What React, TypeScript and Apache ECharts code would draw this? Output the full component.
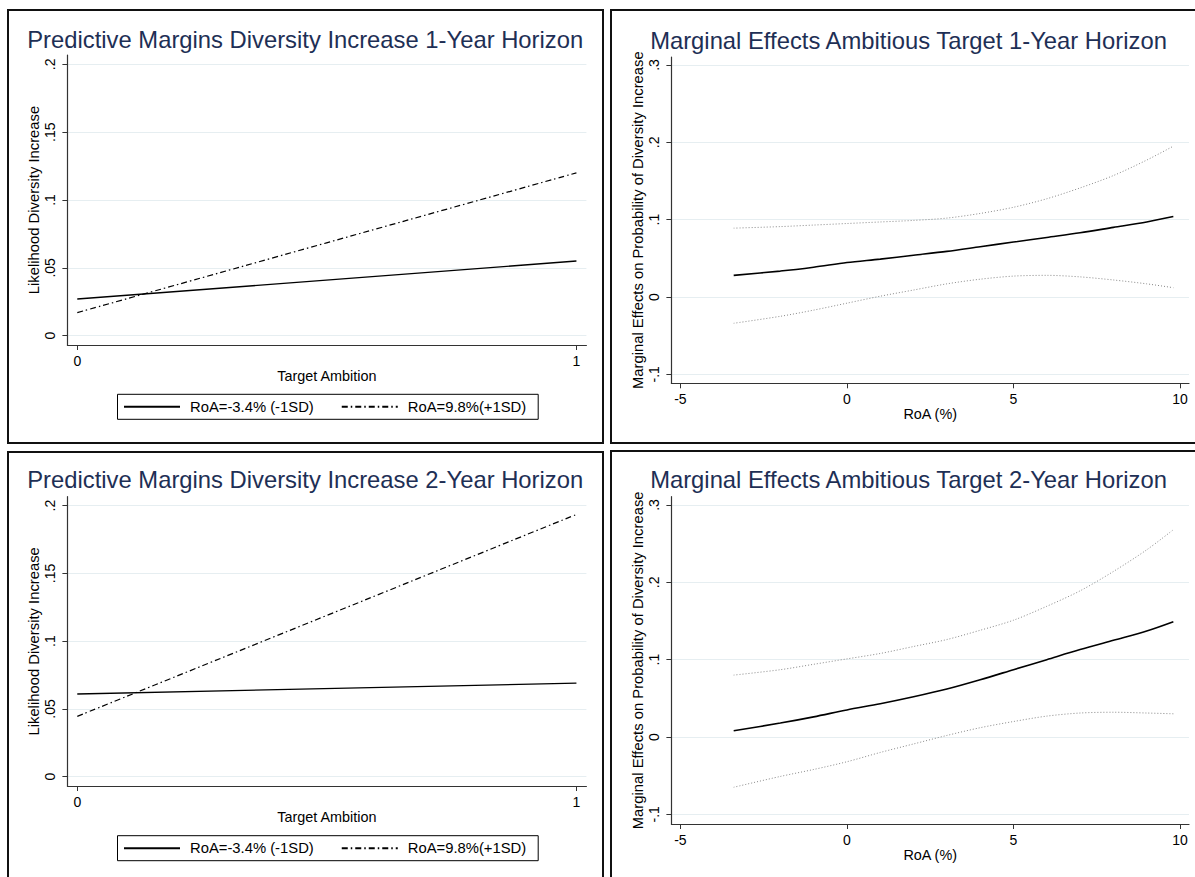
import React, { useEffect, useRef } from "react";
import * as echarts from "echarts";

// ---------- data ----------
const ambition = [0, 1];
const legendLow = "RoA=-3.4% (-1SD)";
const legendHigh = "RoA=9.8%(+1SD)";
// Predictive margins, 1-year horizon
const pm1Low = [0.027, 0.055];
const pm1High = [0.017, 0.12];
// Predictive margins, 2-year horizon
const pm2Low = [0.061, 0.069];
const pm2High = [0.0445, 0.1935];

const roa = [-3.4, -2, -1, 0, 1, 2, 3, 4, 5, 6, 7, 8, 9, 9.8];
// Marginal effects, 1-year horizon
const me1 = [0.028, 0.0335, 0.0385, 0.0445, 0.049, 0.054, 0.059, 0.065, 0.071, 0.077, 0.083, 0.09, 0.097, 0.104];
const me1Up = [0.089, 0.091, 0.093, 0.095, 0.097, 0.099, 0.102, 0.108, 0.116, 0.127, 0.141, 0.157, 0.177, 0.195];
const me1Lo = [-0.034, -0.025, -0.017, -0.008, 0.001, 0.009, 0.017, 0.023, 0.027, 0.028, 0.026, 0.022, 0.017, 0.012];
// Marginal effects, 2-year horizon
const me2 = [0.008, 0.018, 0.026, 0.035, 0.043, 0.052, 0.062, 0.074, 0.087, 0.1, 0.113, 0.125, 0.137, 0.149];
const me2Up = [0.08, 0.087, 0.094, 0.101, 0.108, 0.117, 0.126, 0.138, 0.151, 0.169, 0.189, 0.214, 0.242, 0.268];
const me2Lo = [-0.065, -0.051, -0.042, -0.032, -0.02, -0.009, 0.002, 0.012, 0.02, 0.027, 0.031, 0.032, 0.031, 0.03];

const pmYTicks = [0, 0.05, 0.1, 0.15, 0.2];
const pmXTicks = [0, 1];
const meYTicks = [-0.1, 0, 0.1, 0.2, 0.3];
const meXTicks = [-5, 0, 5, 10];

const titles = [
  "Predictive Margins Diversity Increase 1-Year Horizon",
  "Marginal Effects Ambitious Target 1-Year Horizon",
  "Predictive Margins Diversity Increase 2-Year Horizon",
  "Marginal Effects Ambitious Target 2-Year Horizon",
];

// ---------- styles ----------
const FONT = '"Liberation Sans", Arial, Helvetica, sans-serif';
const TITLE_COLOR = "#1e2f55";
const AXIS_COLOR = "#333";
const GRID_COLOR = "#e6eef1";
const DASH_DOT = [6, 3, 1.5, 3];
const DOT = [1, 2];

const stataFmt = (v: number) => {
  if (Math.abs(v) < 1e-9) return "0";
  const s = String(+v.toFixed(4));
  return s.replace(/^(-?)0\./, "$1.");
};

const pairs = (xs: number[], ys: number[]) => xs.map((x, i) => [x, ys[i]]);

function xAxisCfg(grid: number, min: number, max: number, ticks: number[], name: string) {
  return {
    type: "value",
    gridIndex: grid,
    min,
    max,
    name,
    nameLocation: "middle",
    nameGap: 24,
    nameTextStyle: { fontFamily: FONT, fontSize: 14.4, color: "#000" },
    axisLine: { show: true, onZero: false, lineStyle: { color: AXIS_COLOR, width: 1.2 } },
    axisTick: { show: true, length: 5, customValues: ticks, lineStyle: { color: AXIS_COLOR, width: 1 } },
    axisLabel: {
      show: true,
      customValues: ticks,
      margin: 9,
      fontFamily: FONT,
      fontSize: 14,
      color: "#000",
      formatter: (v: number) => stataFmt(v),
    },
    splitLine: { show: false },
  };
}

function yAxisCfg(grid: number, min: number, max: number, ticks: number[], name: string) {
  return {
    type: "value",
    gridIndex: grid,
    min,
    max,
    name,
    nameLocation: "middle",
    nameGap: 26,
    nameTextStyle: { fontFamily: FONT, fontSize: 14.8, color: "#000" },
    axisLine: { show: true, onZero: false, lineStyle: { color: AXIS_COLOR, width: 1.2 } },
    axisTick: { show: true, length: 5, customValues: ticks, lineStyle: { color: AXIS_COLOR, width: 1 } },
    axisLabel: {
      show: true,
      customValues: ticks,
      rotate: 90,
      margin: 10,
      fontFamily: FONT,
      fontSize: 14,
      color: "#000",
      formatter: (v: number) => stataFmt(v),
    },
    splitLine: { show: true, lineStyle: { color: GRID_COLOR, width: 1 } },
  };
}

function lineSeries(name: string, grid: number, data: number[][], color: string, width: number, type: any) {
  return {
    type: "line",
    name,
    xAxisIndex: grid,
    yAxisIndex: grid,
    data,
    symbol: "none",
    showSymbol: false,
    smooth: 0.3,
    silent: true,
    lineStyle: { color, width, type },
    itemStyle: { color },
    z: 3,
  };
}

function legendCfg(top: number) {
  return {
    left: 117.5,
    top,
    orient: "horizontal",
    data: [legendLow, legendHigh],
    itemWidth: 56,
    itemHeight: 14,
    itemGap: 27,
    borderColor: "#000",
    borderWidth: 1,
    padding: [5, 12, 5, 5.5],
    selectedMode: false,
    itemStyle: { opacity: 0, borderWidth: 0 },
    textStyle: { fontFamily: FONT, fontSize: 14.8, color: "#000", padding: [0, 0, 0, 5] },
  };
}

export default function App() {
  const ref = useRef<HTMLDivElement>(null);

  useEffect(() => {
    if (!ref.current) return;
    const chart = echarts.init(ref.current, undefined, { renderer: "svg" });

    const grids = [
      { left: 67.4, top: 55, width: 519, height: 290 },
      { left: 671.4, top: 57, width: 517.6, height: 326.3 },
      { left: 67.4, top: 496.7, width: 519, height: 289.3 },
      { left: 671.4, top: 496.7, width: 517.6, height: 327.3 },
    ];

    const titleStyle = (text: string) => ({
      text,
      fontFamily: FONT,
      fontSize: 23.8,
      fill: TITLE_COLOR,
      align: "center",
      verticalAlign: "middle",
    });

    const option: any = {
      animation: false,
      backgroundColor: "#fff",
      grid: grids.map((g) => ({ ...g, containLabel: false })),
      xAxis: [
        xAxisCfg(0, -0.0198, 1.02, pmXTicks, "Target Ambition"),
        xAxisCfg(1, -5.27, 10.27, meXTicks, "RoA (%)"),
        xAxisCfg(2, -0.0198, 1.02, pmXTicks, "Target Ambition"),
        xAxisCfg(3, -5.27, 10.27, meXTicks, "RoA (%)"),
      ],
      yAxis: [
        yAxisCfg(0, -0.00685, 0.20685, pmYTicks, "Likelihood Diversity Increase"),
        yAxisCfg(1, -0.1116, 0.3103, meYTicks, "Marginal Effects on Probability of Diversity Increase"),
        yAxisCfg(2, -0.0069, 0.2066, pmYTicks, "Likelihood Diversity Increase"),
        yAxisCfg(3, -0.1125, 0.3107, meYTicks, "Marginal Effects on Probability of Diversity Increase"),
      ],
      legend: [legendCfg(394.3), legendCfg(835.7)],
      series: [
        lineSeries(legendLow, 0, pairs(ambition, pm1Low), "#000", 1.4, "solid"),
        lineSeries(legendHigh, 0, pairs(ambition, pm1High), "#000", 1.2, DASH_DOT),
        lineSeries(legendLow, 2, pairs(ambition, pm2Low), "#000", 1.4, "solid"),
        lineSeries(legendHigh, 2, pairs(ambition, pm2High), "#000", 1.2, DASH_DOT),
        lineSeries("me1Up", 1, pairs(roa, me1Up), "#888", 1, DOT),
        lineSeries("me1Lo", 1, pairs(roa, me1Lo), "#888", 1, DOT),
        lineSeries("me1", 1, pairs(roa, me1), "#000", 1.6, "solid"),
        lineSeries("me2Up", 3, pairs(roa, me2Up), "#888", 1, DOT),
        lineSeries("me2Lo", 3, pairs(roa, me2Lo), "#888", 1, DOT),
        lineSeries("me2", 3, pairs(roa, me2), "#000", 1.6, "solid"),
      ],
      graphic: [
        { type: "rect", shape: { x: 8, y: 10, width: 595, height: 433 }, style: { fill: "none", stroke: "#111", lineWidth: 2 }, silent: true },
        { type: "rect", shape: { x: 611, y: 10, width: 600, height: 433 }, style: { fill: "none", stroke: "#111", lineWidth: 2 }, silent: true },
        { type: "rect", shape: { x: 8, y: 452, width: 595, height: 440 }, style: { fill: "none", stroke: "#111", lineWidth: 2 }, silent: true },
        { type: "rect", shape: { x: 611, y: 451, width: 600, height: 440 }, style: { fill: "none", stroke: "#111", lineWidth: 2 }, silent: true },
        { type: "text", x: 305.2, y: 39.3, style: titleStyle(titles[0]), silent: true },
        { type: "text", x: 908.5, y: 40, style: titleStyle(titles[1]), silent: true },
        { type: "text", x: 305.2, y: 479.3, style: titleStyle(titles[2]), silent: true },
        { type: "text", x: 908.5, y: 479.3, style: titleStyle(titles[3]), silent: true },
      ],
    };

    chart.setOption(option);
    return () => chart.dispose();
  }, []);

  return (
    <div
      ref={ref}
      style={{ position: "fixed", left: 0, top: 0, width: 1195, height: 877, background: "#fff" }}
    />
  );
}
